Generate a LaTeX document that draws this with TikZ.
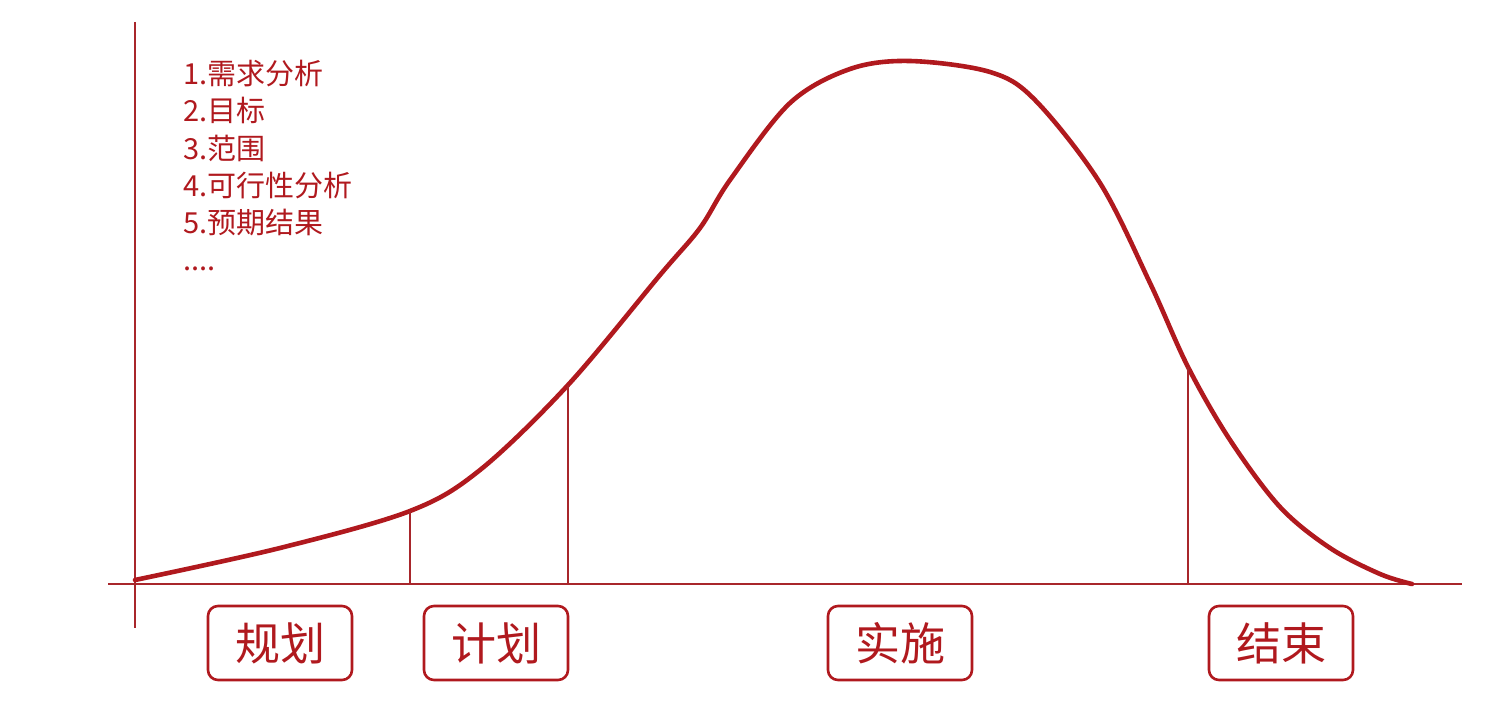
\documentclass[tikz,border=0pt]{standalone}
\usepackage{fontspec}
\setmainfont{Noto Sans CJK SC}
\usepackage{tikz}
\usetikzlibrary{positioning,calc}
\definecolor{cred}{HTML}{B0191E}
\definecolor{caxis}{HTML}{A8262B}
\tikzset{
  phase/.style={rectangle, rounded corners=5pt, draw=cred, line width=1.3pt,
    minimum width=72pt, minimum height=37pt, inner sep=0pt, text=cred,
    font=\fontsize{22.5}{26}\selectfont},
  axis/.style={draw=caxis, line width=0.75pt},
  border/.style={draw=caxis, line width=0.6pt},
  curve/.style={draw=cred, line width=2.3pt, line cap=round, line join=round},
  items/.style={text=cred, align=left, inner sep=0pt,
    font=\fontsize{14.5}{18.6}\selectfont},
}
\begin{document}
\begin{tikzpicture}[x=0.5pt, y=-0.5pt]
  \useasboundingbox (0,0) rectangle (1497,727);

  % axes
  \coordinate (xl) at (108,584);
  \coordinate (xr) at (1462,584);
  \coordinate (yt) at (135,22);
  \coordinate (yb) at (135,628);
  \draw[axis] (xl) -- (xr);
  \draw[axis] (yt) -- (yb);

  % curve
  \draw[curve] plot[smooth, tension=0.55] coordinates {
    (135,580) (280,548) (410,511) (480,470) (568,385) (660,275) (700,228)
    (730,180) (790,103) (850,69) (910,61) (990,72) (1035,100) (1100,183)
    (1150,283) (1188,367) (1230,440) (1280,507) (1330,548) (1380,574) (1412,584)};

  % phase borders
  \coordinate (b1) at (410,584); \coordinate (t1) at (410,511);
  \coordinate (b2) at (568,584); \coordinate (t2) at (568,385);
  \coordinate (b3) at (1188,584); \coordinate (t3) at (1188,367);
  \draw[border] (b1) -- (t1);
  \draw[border] (b2) -- (t2);
  \draw[border] (b3) -- (t3);

  % task list
  \node[items, anchor=north west] (list) at (183,60)
    {1.需求分析\\2.目标\\3.范围\\4.可行性分析\\5.预期结果\\....};

  % phases
  \node[phase] (plan) at (280,643) {规划};
  \node[phase] (sched) at (496,643) {计划};
  \node[phase] (impl) at (900,643) {实施};
  \node[phase] (close) at (1281,643) {结束};
\end{tikzpicture}
\end{document}
